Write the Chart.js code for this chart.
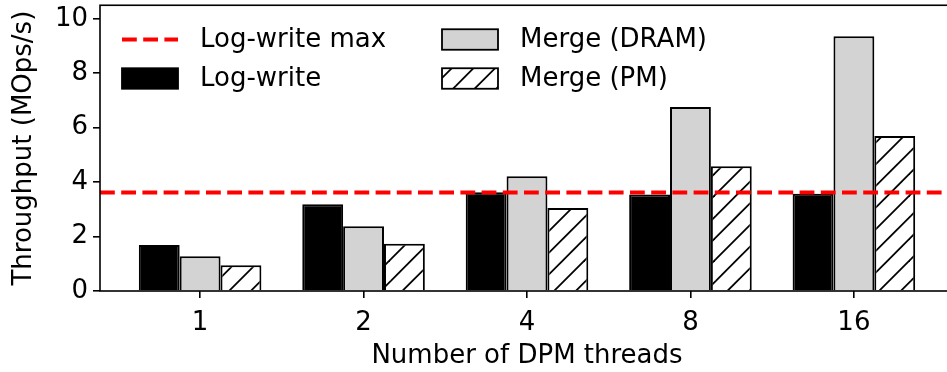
<!DOCTYPE html>
<html>
<head>
<meta charset="utf-8">
<script src="https://cdn.jsdelivr.net/npm/chart.js@4.4.1/dist/chart.umd.min.js"></script>
<style>
  html, body { margin: 0; padding: 0; overflow: hidden; background: #fff; }
  #wrap { width: 960px; height: 372px; }
</style>
</head>
<body>
<div id="wrap"><canvas id="chart" width="960" height="372"></canvas></div>
<script>
// Throughput per number of DPM threads
const threadCounts = ['1', '2', '4', '8', '16'];
const logWrite  = [1.69, 3.19, 3.63, 3.55, 3.57];
const mergeDram = [1.28, 2.38, 4.22, 6.76, 9.36];
const mergePm   = [0.95, 1.74, 3.05, 4.58, 5.70];
const logWriteMax = 3.62;
const yTickValues = [0, 2, 4, 6, 8, 10];

const FONT = 'DejaVu Sans';
const X_MIN = 0.3875, X_MAX = 5.6125;

// diagonal "/" hatch on white
function makeHatch() {
  const size = 65, step = size / 3;
  const c = document.createElement('canvas');
  c.width = size; c.height = size;
  const g = c.getContext('2d');
  g.fillStyle = '#fff';
  g.fillRect(0, 0, size, size);
  g.strokeStyle = '#000';
  g.lineWidth = 1.8;
  for (let k = 0; k <= 6; k++) {
    const s = k * step;
    g.beginPath();
    g.moveTo(-10, s + 10);
    g.lineTo(s + 10, -10);
    g.stroke();
  }
  return document.getElementById('chart').getContext('2d').createPattern(c, 'repeat');
}
const hatch = makeHatch();

const toPoints = vals => vals.map((v, i) => ({ x: i + 1, y: v }));

// frame around the plotting area
const framePlugin = {
  id: 'frame',
  afterDraw(chart) {
    const { ctx, chartArea: a } = chart;
    ctx.save();
    ctx.strokeStyle = '#000';
    ctx.lineWidth = 1.6;
    ctx.strokeRect(a.left, a.top, a.right - a.left, a.bottom - a.top);
    ctx.restore();
  }
};

// two-column legend in the upper-left corner of the plot
const cornerLegend = {
  id: 'cornerLegend',
  afterDatasetsDraw(chart) {
    const ctx = chart.ctx;
    const ds = chart.data.datasets;
    const slots = [[0, 122, 39.5], [1, 122, 78.5], [2, 442, 39.5], [3, 442, 78.5]];
    const w = 56, h = 20.5;
    ctx.save();
    for (const [idx, x, y] of slots) {
      const d = ds[idx];
      if (d.type === 'line') {
        ctx.strokeStyle = d.borderColor;
        ctx.lineWidth = d.borderWidth;
        ctx.setLineDash(d.borderDash);
        ctx.beginPath();
        ctx.moveTo(x, y);
        ctx.lineTo(x + w, y);
        ctx.stroke();
        ctx.setLineDash([]);
      } else {
        ctx.fillStyle = d.backgroundColor;
        ctx.fillRect(x, y - h / 2, w, h);
        ctx.strokeStyle = d.borderColor;
        ctx.lineWidth = 1.8;
        ctx.strokeRect(x, y - h / 2, w, h);
      }
      ctx.fillStyle = '#000';
      ctx.font = '26px "' + FONT + '"';
      ctx.textAlign = 'left';
      ctx.textBaseline = 'middle';
      ctx.fillText(d.label, x + 78, y + 1);
    }
    ctx.restore();
  }
};

const axisCommon = {
  grid: { drawOnChartArea: false, drawTicks: true, tickLength: 7, color: '#000', lineWidth: 1.6, offset: false },
  border: { display: false },
  offset: false,
};

new Chart(document.getElementById('chart'), {
  type: 'bar',
  data: {
    datasets: [
      {
        type: 'line', label: 'Log-write max', order: 0,
        data: [{ x: X_MIN, y: logWriteMax }, { x: X_MAX, y: logWriteMax }],
        borderColor: '#ff0000', borderWidth: 4, borderDash: [14.8, 6.4],
        pointRadius: 0, fill: false
      },
      {
        label: 'Log-write', order: 1, data: toPoints(logWrite),
        backgroundColor: '#000000', borderColor: '#000000', borderWidth: 2
      },
      {
        label: 'Merge (DRAM)', order: 1, data: toPoints(mergeDram),
        backgroundColor: '#d3d3d3', borderColor: '#000000', borderWidth: 2
      },
      {
        label: 'Merge (PM)', order: 1, data: toPoints(mergePm),
        backgroundColor: hatch, borderColor: '#000000', borderWidth: 2
      }
    ]
  },
  options: {
    responsive: false,
    animation: false,
    devicePixelRatio: 1,
    layout: { padding: { top: 4, right: 6, left: 0, bottom: 0 } },
    datasets: { bar: { categoryPercentage: 0.75, barPercentage: 1.0, borderSkipped: 'start' } },
    plugins: { legend: { display: false }, tooltip: { enabled: false } },
    scales: {
      x: {
        ...axisCommon,
        type: 'linear', position: 'bottom', min: X_MIN, max: X_MAX,
        afterBuildTicks: s => { s.ticks = threadCounts.map((_, i) => ({ value: i + 1 })); },
        afterFit: s => { s.height = 81; },
        ticks: {
          autoSkip: false, maxRotation: 0, padding: 10, color: '#000',
          font: { family: FONT, size: 26 },
          callback: v => threadCounts[Math.round(v) - 1]
        },
        title: {
          display: true, text: 'Number of DPM threads', color: '#000',
          font: { family: FONT, size: 26, lineHeight: 1.2 }, padding: { top: 0, bottom: 0 }
        }
      },
      y: {
        ...axisCommon,
        min: 0, max: 10.5,
        afterBuildTicks: s => { s.ticks = yTickValues.map(v => ({ value: v })); },
        afterFit: s => { s.width = 100; },
        ticks: { padding: 5, color: '#000', font: { family: FONT, size: 26, lineHeight: 0.02 } },
        title: {
          display: true, text: 'Throughput (MOps/s)', color: '#000',
          font: { family: FONT, size: 26, lineHeight: 1.2 }, padding: { top: 9, bottom: 0 }
        }
      }
    }
  },
  plugins: [framePlugin, cornerLegend]
});
</script>
</body>
</html>
